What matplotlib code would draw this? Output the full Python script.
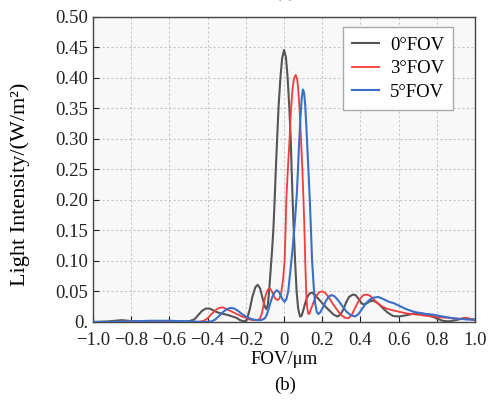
import numpy as np
import matplotlib
matplotlib.use("Agg")
import matplotlib.pyplot as plt

plt.rcParams['font.family'] = ['Liberation Serif', 'DejaVu Serif']
plt.rcParams['mathtext.fontset'] = 'stix'

# 0 deg FOV
x0 = [-1.0, -0.92, -0.85, -0.78, -0.70, -0.60, -0.50, -0.47, -0.45, -0.43, -0.41, -0.39,
      -0.37, -0.35, -0.33, -0.30, -0.27, -0.25, -0.23, -0.21, -0.195, -0.18, -0.165, -0.15,
      -0.138, -0.125, -0.11, -0.10, -0.093, -0.085, -0.078, -0.07, -0.062, -0.056, -0.049,
      -0.043, -0.036, -0.029, -0.019, -0.010, 0.0, 0.010, 0.019, 0.028, 0.035, 0.040, 0.045,
      0.051, 0.058, 0.066, 0.074, 0.084, 0.092, 0.10, 0.11, 0.12, 0.135, 0.147, 0.16, 0.18,
      0.20, 0.22, 0.24, 0.26, 0.28, 0.295, 0.31, 0.325, 0.34, 0.36, 0.375, 0.39, 0.405, 0.415,
      0.43, 0.45, 0.47, 0.49, 0.51, 0.54, 0.57, 0.60, 0.64, 0.68, 0.71, 0.75, 0.79, 0.83,
      0.86, 0.90, 0.94, 0.97, 1.0]
y0 = [0.0, 0.001, 0.003, 0.001, 0.0, 0.001, 0.001, 0.004, 0.011, 0.018, 0.022, 0.022,
      0.019, 0.016, 0.014, 0.012, 0.009, 0.007, 0.003, 0.001, 0.003, 0.020, 0.042, 0.057,
      0.061, 0.055, 0.036, 0.025, 0.021, 0.028, 0.050, 0.085, 0.12, 0.15, 0.20,
      0.25, 0.30, 0.35, 0.40, 0.432, 0.446, 0.434, 0.40, 0.35, 0.30, 0.25, 0.20,
      0.15, 0.10, 0.05, 0.022, 0.009, 0.010, 0.018, 0.030, 0.040, 0.047, 0.048, 0.045, 0.038,
      0.031, 0.024, 0.018, 0.012, 0.009, 0.012, 0.020, 0.032, 0.041, 0.045, 0.044, 0.038, 0.031, 0.029,
      0.030, 0.034, 0.035, 0.031, 0.025, 0.016, 0.010, 0.009, 0.011, 0.014, 0.015, 0.012, 0.007, 0.002,
      0.001, 0.003, 0.006, 0.005, 0.003]

# 3 deg FOV
x3 = [-1.0, -0.9, -0.8, -0.7, -0.6, -0.5, -0.45, -0.42, -0.40, -0.38, -0.36, -0.34, -0.32,
      -0.30, -0.28, -0.26, -0.24, -0.22, -0.20, -0.18, -0.16, -0.14, -0.125, -0.115, -0.105,
      -0.095, -0.085, -0.075, -0.065, -0.055, -0.045, -0.035, -0.025, -0.015, -0.005, 0.003,
      0.008, 0.012, 0.020, 0.029, 0.036, 0.044, 0.052, 0.061, 0.069, 0.076, 0.083, 0.089,
      0.096, 0.102, 0.107, 0.111, 0.116, 0.121, 0.126, 0.132, 0.14, 0.155, 0.17, 0.185, 0.20,
      0.215, 0.235, 0.255, 0.28, 0.30, 0.32, 0.337, 0.355, 0.375, 0.395, 0.415, 0.433, 0.45,
      0.47, 0.49, 0.51, 0.537, 0.57, 0.60, 0.642, 0.70, 0.747, 0.80, 0.85, 0.887, 0.92, 0.95,
      0.98, 1.0]
y3 = [0.0, 0.0, 0.001, 0.001, 0.001, 0.0, 0.0, 0.002, 0.006, 0.013, 0.019, 0.023, 0.024,
      0.021, 0.018, 0.015, 0.012, 0.009, 0.007, 0.004, 0.003, 0.003, 0.006, 0.015, 0.032,
      0.045, 0.053, 0.055, 0.051, 0.044, 0.038, 0.036, 0.038, 0.047, 0.07, 0.10,
      0.15, 0.20, 0.25, 0.30, 0.345, 0.38, 0.399, 0.405, 0.398, 0.375, 0.34, 0.30,
      0.25, 0.20, 0.15, 0.10, 0.05, 0.025, 0.014, 0.013, 0.02, 0.033, 0.043, 0.049, 0.050,
      0.048, 0.040, 0.030, 0.019, 0.011, 0.007, 0.006, 0.012, 0.025, 0.037, 0.044, 0.045, 0.043,
      0.037, 0.031, 0.026, 0.022, 0.019, 0.017, 0.014, 0.012, 0.010, 0.008, 0.007, 0.006, 0.005, 0.007,
      0.005, 0.004]

# 5 deg FOV
x5 = [-1.0, -0.9, -0.8, -0.7, -0.6, -0.5, -0.42, -0.38, -0.36, -0.34, -0.32, -0.30, -0.28,
      -0.26, -0.24, -0.22, -0.20, -0.18, -0.16, -0.14, -0.12, -0.10, -0.09, -0.08, -0.07,
      -0.06, -0.05, -0.038, -0.028, -0.018, -0.008, 0.003, 0.012, 0.022, 0.032, 0.045, 0.058,
      0.067, 0.073, 0.080, 0.087, 0.093, 0.099, 0.105, 0.111, 0.117, 0.123, 0.129, 0.135,
      0.141, 0.147, 0.155, 0.163, 0.172, 0.18, 0.19, 0.205, 0.22, 0.235, 0.25, 0.265, 0.285,
      0.31, 0.33, 0.35, 0.372, 0.39, 0.41, 0.43, 0.45, 0.47, 0.494, 0.51, 0.53, 0.55, 0.573,
      0.60, 0.64, 0.677, 0.72, 0.78, 0.83, 0.887, 0.93, 0.96, 1.0]
y5 = [0.0, 0.0, 0.001, 0.002, 0.002, 0.001, 0.0, 0.001, 0.004, 0.010, 0.016, 0.021, 0.023,
      0.022, 0.018, 0.013, 0.009, 0.006, 0.004, 0.003, 0.003, 0.006, 0.012, 0.022, 0.033,
      0.042, 0.048, 0.052, 0.050, 0.044, 0.037, 0.033, 0.037, 0.05, 0.08, 0.12, 0.17,
      0.21, 0.25, 0.30, 0.34, 0.368, 0.381, 0.376, 0.355, 0.32, 0.28, 0.24, 0.20,
      0.15, 0.10, 0.06, 0.030, 0.016, 0.013, 0.016, 0.025, 0.035, 0.042, 0.044, 0.042, 0.035,
      0.024, 0.016, 0.011, 0.009, 0.013, 0.022, 0.031, 0.037, 0.040, 0.041, 0.039, 0.036, 0.033, 0.031,
      0.027, 0.021, 0.017, 0.014, 0.012, 0.009, 0.006, 0.005, 0.004, 0.004]

labels = ['0°FOV', '3°FOV', '5°FOV']
xticks = [-1.0, -0.8, -0.6, -0.4, -0.2, 0, 0.2, 0.4, 0.6, 0.8, 1.0]
xtick_labels = ['−1.0', '−0.8', '−0.6', '−0.4', '−0.2', '0', '0.2', '0.4', '0.6', '0.8', '1.0']
yticks = [0, 0.05, 0.10, 0.15, 0.20, 0.25, 0.30, 0.35, 0.40, 0.45, 0.50]
ytick_labels = ['0.', '0.05', '0.10', '0.15', '0.20', '0.25', '0.30', '0.35', '0.40', '0.45', '0.50']

fig = plt.figure(figsize=(4.93, 4.04), dpi=100)
ax = fig.add_axes([0.1886, 0.203, 0.775, 0.755])
ax.set_facecolor('#f8f8f8')

ax.plot(x0, y0, color='#555555', lw=1.5, label=labels[0], zorder=3)
ax.plot(x3, y3, color='#f03c3c', lw=1.3, label=labels[1], zorder=3)
ax.plot(x5, y5, color='#3b6fc6', lw=1.5, label=labels[2], zorder=3)

ax.set_xlim(-1.0, 1.0)
ax.set_ylim(0, 0.5)
ax.set_xticks(xticks)
ax.set_xticklabels(xtick_labels)
ax.set_yticks(yticks)
ax.set_yticklabels(ytick_labels)
ax.tick_params(direction='in', length=4, labelsize=13.5, colors='#222222', width=0.8)
ax.tick_params(axis='x', pad=7)
ax.grid(True, color='#c8c8c8', linestyle=(0, (2, 2)), lw=0.8)
for s in ax.spines.values():
    s.set_color('#444444')
    s.set_linewidth(1.0)

ax.set_xlabel('FOV/μm', fontsize=13.5, labelpad=2)
ax.set_ylabel('Light Intensity/(W/m²)', fontsize=16)
ax.yaxis.set_label_coords(-0.165, 0.45)

leg = ax.legend(loc='upper right', fontsize=13.5, fancybox=False, framealpha=1,
                edgecolor='#aaaaaa', handlelength=1.4, handletextpad=0.6,
                borderpad=0.5, labelspacing=0.35, borderaxespad=0,
                bbox_to_anchor=(0.943, 0.967))
leg.get_frame().set_linewidth(1.0)

fig.text(0.578, 0.955 + 0.042, '(a)', ha='center', va='bottom', fontsize=13.5, color='#555555')
fig.text(0.578, 0.045, '(b)', ha='center', va='center', fontsize=13.5)

fig.savefig('out.png', dpi=100)
